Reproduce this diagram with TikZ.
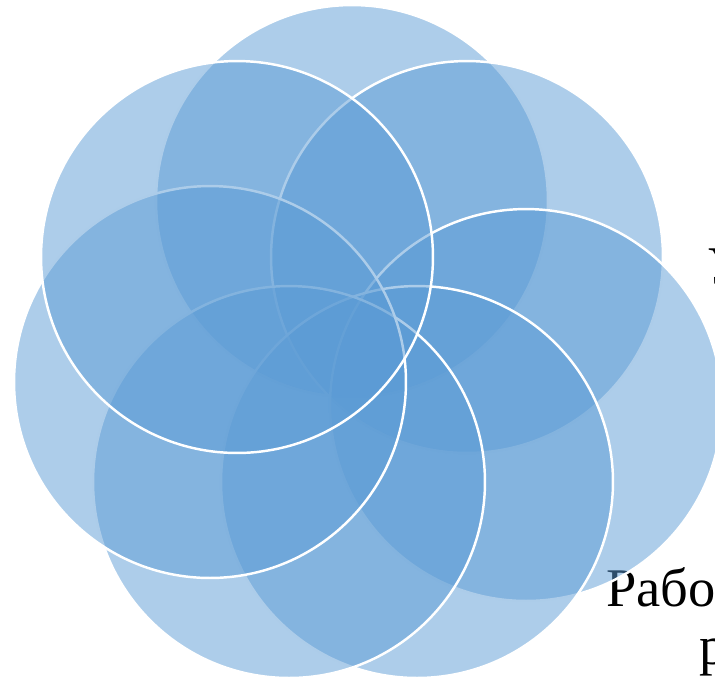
\documentclass[tikz,border=0pt]{standalone}
\usepackage{fontspec}
\setmainfont{Liberation Serif}
\usepackage{xcolor}
\usepackage{tikz}
\usetikzlibrary{positioning, calc}

\definecolor{petalblue}{RGB}{91,155,213}

\begin{document}
\begin{tikzpicture}[x=0.02cm, y=-0.02cm,
    petal/.style={circle, minimum size=7.84cm, inner sep=0pt,
        fill=petalblue, fill opacity=0.5, draw=white, draw opacity=1, line width=1.4pt},
    label/.style={anchor=base west, inner sep=0pt, font=\fontsize{31}{35}\selectfont}]

    \useasboundingbox (0,0) rectangle (715,681);
    \clip (0,0) rectangle (715,681);

    % ================= Texts (behind the circles) =================
    \node[label] (t1) at (707,284) {У};
    \node[label] (t2) at (606,606) {Рабо};
    \node[label] (t3) at (699,664) {р};

    % ================= Circles (clockwise from the top) =================
    \node[petal] (top)    at (352,201) {};
    \node[petal] (uright) at (467,257) {};
    \node[petal] (right)  at (526,405) {};
    \node[petal] (dright) at (417,482) {};
    \node[petal] (dleft)  at (289,482) {};
    \node[petal] (left)   at (210,382) {};
    \node[petal] (uleft)  at (237,257) {};

\end{tikzpicture}
\end{document}
